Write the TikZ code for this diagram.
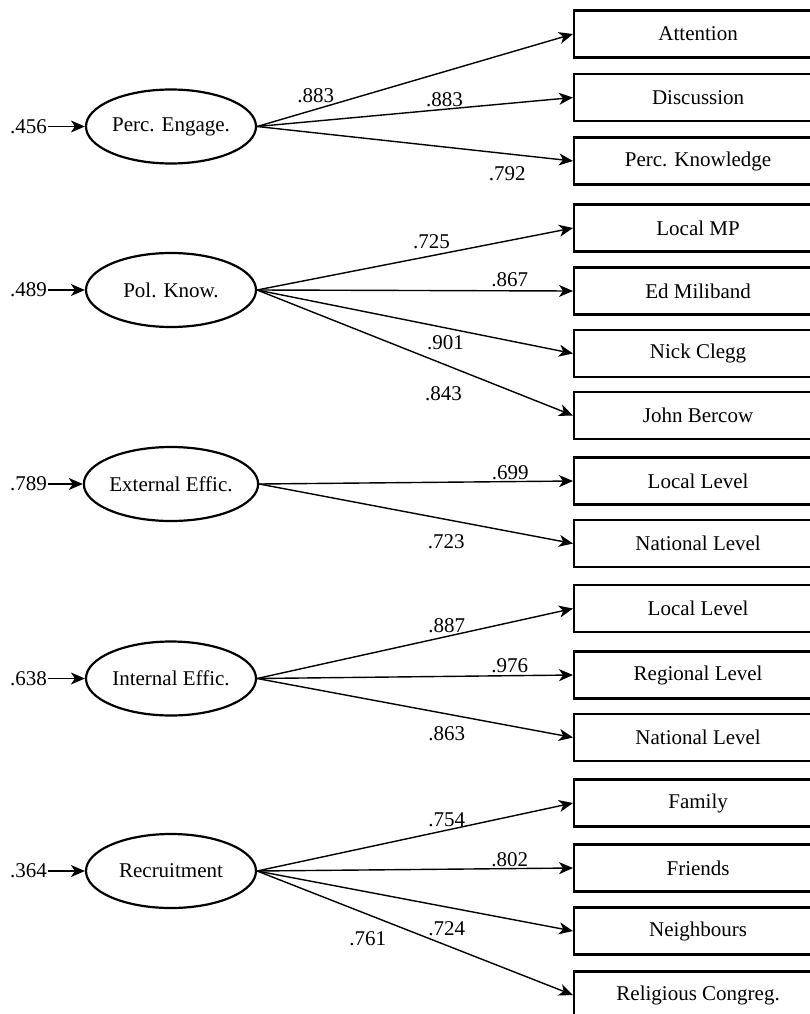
\documentclass[tikz,border=0pt]{standalone}
\usepackage{fontspec}
\setmainfont{Liberation Serif}
\usetikzlibrary{arrows.meta,shapes.geometric}

\tikzset{
	factor/.style = {draw, ellipse, line width=2.2pt, minimum width=170pt, minimum height=74pt, inner sep=0pt},
	item/.style = {draw, rectangle, line width=2.2pt, minimum width=248pt, minimum height=47pt, anchor=west},
	coef/.style = {inner sep=1pt},
	load/.style = {-{Stealth[length=14pt,width=12pt,inset=4pt]}, line width=1.4pt}
}

\begin{document}
\begin{tikzpicture}[x=1pt, y=-1pt, font=\fontsize{21}{24}\selectfont]
		\useasboundingbox (0,0) rectangle (810,1014);
		\clip (0,0) rectangle (810,1014);
		% perceived engagement
		\node[factor] (eng) at (171,126.5) {Perc. Engage.};
		\node[coef, anchor=east] (eng-e) at (48,126.5) {.456};
		\node[item] (att) at (573,34) {Attention};
		\node[item] (disc) at (573,97.5) {Discussion};
		\node[item] (pknow) at (573,161) {Perc. Knowledge};
		\draw[load] (eng-e) -- (eng);
		\draw[load] (eng.east) -- (att.west) node[coef, pos=0.186, above=4.3pt] {.883};
		\draw[load] (eng.east) -- (disc.west) node[coef, pos=0.593, above=1.3pt] {.883};
		\draw[load] (eng.east) -- (pknow.west) node[coef, pos=0.792, below=11pt] {.792};
		% political knowledge
		\node[factor] (know) at (171,290) {Pol. Know.};
		\node[coef, anchor=east] (know-e) at (48,290) {.489};
		\node[item] (mp) at (573,228) {Local MP};
		\node[item] (mili) at (573,291) {Ed Miliband};
		\node[item] (clegg) at (573,353.5) {Nick Clegg};
		\node[item] (bercow) at (573,415.5) {John Bercow};
		\draw[load] (know-e) -- (know);
		\draw[load] (know.east) -- (mp.west) node[coef, pos=0.552, above=4.8pt] {.725};
		\draw[load] (know.east) -- (mili.west) node[coef, pos=0.8, above=2.5pt] {.867};
		\draw[load] (know.east) -- (clegg.west) node[coef, pos=0.596, below=6pt] {.901};
		\draw[load] (know.east) -- (bercow.west) node[coef, pos=0.59, below=21pt] {.843};
		% external efficacy
		\node[factor] (ext) at (171,484) {External Effic.};
		\node[coef, anchor=east] (ext-e) at (48,484) {.789};
		\node[item] (ext-loc) at (573,481) {Local Level};
		\node[item] (ext-nat) at (573,543.5) {National Level};
		\draw[load] (ext-e) -- (ext);
		\draw[load] (ext.east) -- (ext-loc.west) node[coef, pos=0.8, above=0pt] {.699};
		\draw[load] (ext.east) -- (ext-nat.west) node[coef, pos=0.596, below=13pt] {.723};
		% internal efficacy
		\node[factor] (int) at (171,678.5) {Internal Effic.};
		\node[coef, anchor=east] (int-e) at (48,678.5) {.638};
		\node[item] (int-loc) at (573,608.5) {Local Level};
		\node[item] (int-reg) at (573,675) {Regional Level};
		\node[item] (int-nat) at (573,737.5) {National Level};
		\draw[load] (int-e) -- (int);
		\draw[load] (int.east) -- (int-loc.west) node[coef, pos=0.6, above=1.7pt] {.887};
		\draw[load] (int.east) -- (int-reg.west) node[coef, pos=0.8, above=1pt] {.976};
		\draw[load] (int.east) -- (int-nat.west) node[coef, pos=0.6, below=11pt] {.863};
		% recruitment
		\node[factor] (recr) at (171,871) {Recruitment};
		\node[coef, anchor=east] (recr-e) at (48,871) {.364};
		\node[item] (fam) at (573,803) {Family};
		\node[item] (friends) at (573,868) {Friends};
		\node[item] (neigh) at (573,931) {Neighbours};
		\node[item] (relig) at (573,995) {Religious Congreg.};
		\draw[load] (recr-e) -- (recr);
		\draw[load] (recr.east) -- (fam.west) node[coef, pos=0.6, above=2pt] {.754};
		\draw[load] (recr.east) -- (friends.west) node[coef, pos=0.8, above=0pt] {.802};
		\draw[load] (recr.east) -- (neigh.west) node[coef, pos=0.6, below=13pt] {.724};
		\draw[load] (recr.east) -- (relig.west) node[coef, pos=0.35, below=15pt] {.761};
	\end{tikzpicture}
\end{document}
